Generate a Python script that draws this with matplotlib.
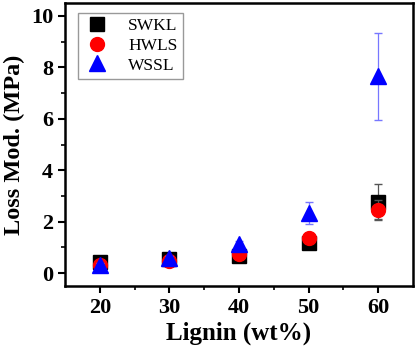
import matplotlib.pyplot as plt
import numpy as np

lignin = [20, 30, 40, 50, 60]

swkl = [0.45, 0.55, 0.65, 1.18, 2.78]
swkl_err = [0.08, 0.08, 0.08, 0.10, 0.68]

hwls = [0.30, 0.48, 0.75, 1.35, 2.45]
hwls_err = [0.08, 0.08, 0.10, 0.10, 0.38]

wssl = [0.30, 0.60, 1.15, 2.35, 7.65]
wssl_err = [0.08, 0.08, 0.08, 0.43, 1.70]

plt.rcParams['font.family'] = ['Liberation Serif', 'DejaVu Serif']

fig = plt.figure(figsize=(4.16, 3.49), dpi=100)
ax = fig.add_axes([65 / 416, 1 - 286 / 349, 348 / 416, 283 / 349])

c1 = ax.errorbar(lignin, swkl, yerr=swkl_err, fmt='s', color='black', ms=9.5,
                 ecolor='#555555', elinewidth=0.9, capsize=3, label='SWKL', zorder=3)
c2 = ax.errorbar(lignin, hwls, yerr=hwls_err, fmt='o', color='red', ms=10,
                 ecolor='#555555', elinewidth=0.9, capsize=3, label='HWLS', zorder=4)
c3 = ax.errorbar(lignin, wssl, yerr=wssl_err, fmt='^', color='blue', ms=12,
                 ecolor='#7777ff', elinewidth=0.9, capsize=3, label='WSSL', zorder=5)

ax.set_xlim(15, 65)
ax.set_ylim(-0.5, 10.5)
ax.set_xticks([20, 30, 40, 50, 60])
ax.set_xticks([25, 35, 45, 55], minor=True)
ax.set_yticks([0, 2, 4, 6, 8, 10])
ax.set_yticks([1, 3, 5, 7, 9], minor=True)

ax.tick_params(which='major', direction='out', length=5, width=1.5,
               labelsize=16)
ax.tick_params(which='minor', direction='out', length=3, width=1.2)
for lab in ax.get_xticklabels() + ax.get_yticklabels():
    lab.set_fontweight('bold')
for sp in ax.spines.values():
    sp.set_linewidth(1.8)

ax.set_xlabel('Lignin (wt%)', fontsize=18, fontweight='bold', labelpad=3)
ax.set_ylabel('Loss Mod. (MPa)', fontsize=17.5, fontweight='bold', labelpad=4)

leg = ax.legend([c1[0], c2[0], c3[0]], ['SWKL', 'HWLS', 'WSSL'],
                loc='upper left', fontsize=12.5, frameon=True, fancybox=False,
                edgecolor='gray', borderpad=0.3, labelspacing=0.2,
                handletextpad=1.0, handlelength=1.6, borderaxespad=0,
                bbox_to_anchor=(0.037, 0.965))
leg.get_frame().set_linewidth(1.0)

fig.savefig('out.png', dpi=100)
